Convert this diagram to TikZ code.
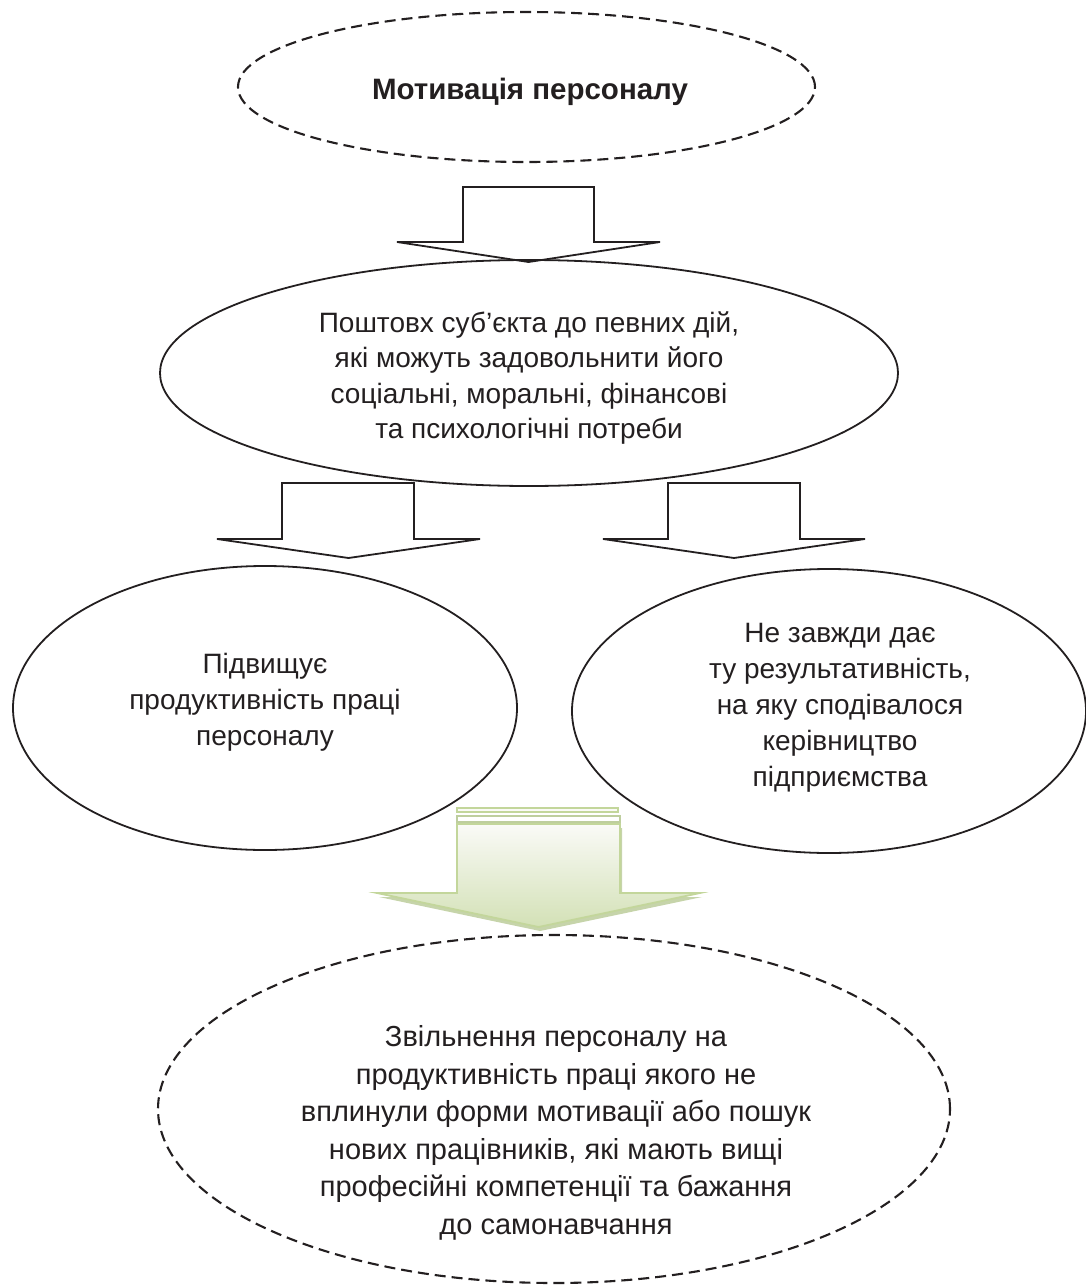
\documentclass[tikz,border=0pt]{standalone}
\usepackage{fontspec}
\setmainfont{Liberation Sans}
\usetikzlibrary{shapes.geometric}
\definecolor{gline}{HTML}{C3D69B}
\definecolor{gdark}{HTML}{AEC186}
\definecolor{gfill}{HTML}{D3E1B6}
\definecolor{gtop}{HTML}{FAFAF7}
\definecolor{ink}{HTML}{231F20}
\begin{document}
\begin{tikzpicture}[x=1pt,y=-1pt,
  oval/.style={ellipse, draw=ink, line width=1.8pt, inner sep=0pt},
  dashoval/.style={oval, dash pattern=on 11pt off 6pt, line width=2.1pt},
  txt/.style={align=center, text=ink, inner sep=0pt, font=\fontsize{28}{35.5}\selectfont},
  blockarrow/.style={draw=ink, line width=1.8pt, line join=miter}]
\useasboundingbox (0,0) rectangle (1086,1287);

% ellipses
\node[dashoval, minimum width=577pt, minimum height=150pt] (mot) at (526.5,87) {};
\node[oval, minimum width=738pt, minimum height=226pt] (push) at (529,373) {};
\node[oval, minimum width=504pt, minimum height=284pt] (up) at (265,708) {};
\node[oval, minimum width=514pt, minimum height=284pt] (notal) at (829,711) {};
\node[dashoval, minimum width=792pt, minimum height=348pt] (fire) at (554,1109) {};

% texts
\node[txt, font=\bfseries\fontsize{29.5}{34}\selectfont] (motT) at (530,92) {Мотивація персоналу};
\node[txt] (pushT) at (529,378) {Поштовх суб’єкта до певних дій,\\які можуть задовольнити його\\соціальні, моральні, фінансові\\та психологічні потреби};
\node[txt, font=\fontsize{28}{36}\selectfont] (upT) at (265,702) {Підвищує\\продуктивність праці\\персоналу};
\node[txt, font=\fontsize{28}{36}\selectfont] (notalT) at (840,708) {Не завжди дає\\ту результативність,\\на яку сподівалося\\керівництво\\підприємства};
\node[txt, font=\fontsize{29}{37.5}\selectfont] (fireT) at (556,1133) {Звільнення персоналу на\\продуктивність праці якого не\\вплинули форми мотивації або пошук\\нових працівників, які мають вищі\\професійні компетенції та бажання\\до самонавчання};

% block arrows
\draw[blockarrow] (463,187) -- (594,187) -- (594,242) -- (660,242) -- (528.5,262) -- (397,242) -- (463,242) -- cycle;
\draw[blockarrow] (282,483) -- (414,483) -- (414,539) -- (480,539) -- (348.5,558) -- (217,539) -- (282,539) -- cycle;
\draw[blockarrow] (668,483) -- (800,483) -- (800,539) -- (865,539) -- (734,558) -- (603,539) -- (668,539) -- cycle;

% green arrow
\fill[gdark!70] (459,828) -- (622,828) -- (622,897) -- (702,897) -- (540,931) -- (379,897) -- (459,897) -- cycle;
\shade[top color=gtop, bottom color=gfill] (457,824) -- (620,824) -- (620,893) -- (700,893) -- (538.5,927) -- (377,893) -- (457,893) -- cycle;
\draw[gline, line width=1.8pt, line join=miter] (457,824) -- (620,824) -- (620,893) -- (700,893) -- (538.5,927) -- (377,893) -- (457,893) -- cycle;
\draw[gline, line width=1.5pt, fill=gtop] (457,808) rectangle (618,812);
\draw[gdark!80, line width=1.5pt, fill=white] (457,816) rectangle (620,822);
\end{tikzpicture}
\end{document}
